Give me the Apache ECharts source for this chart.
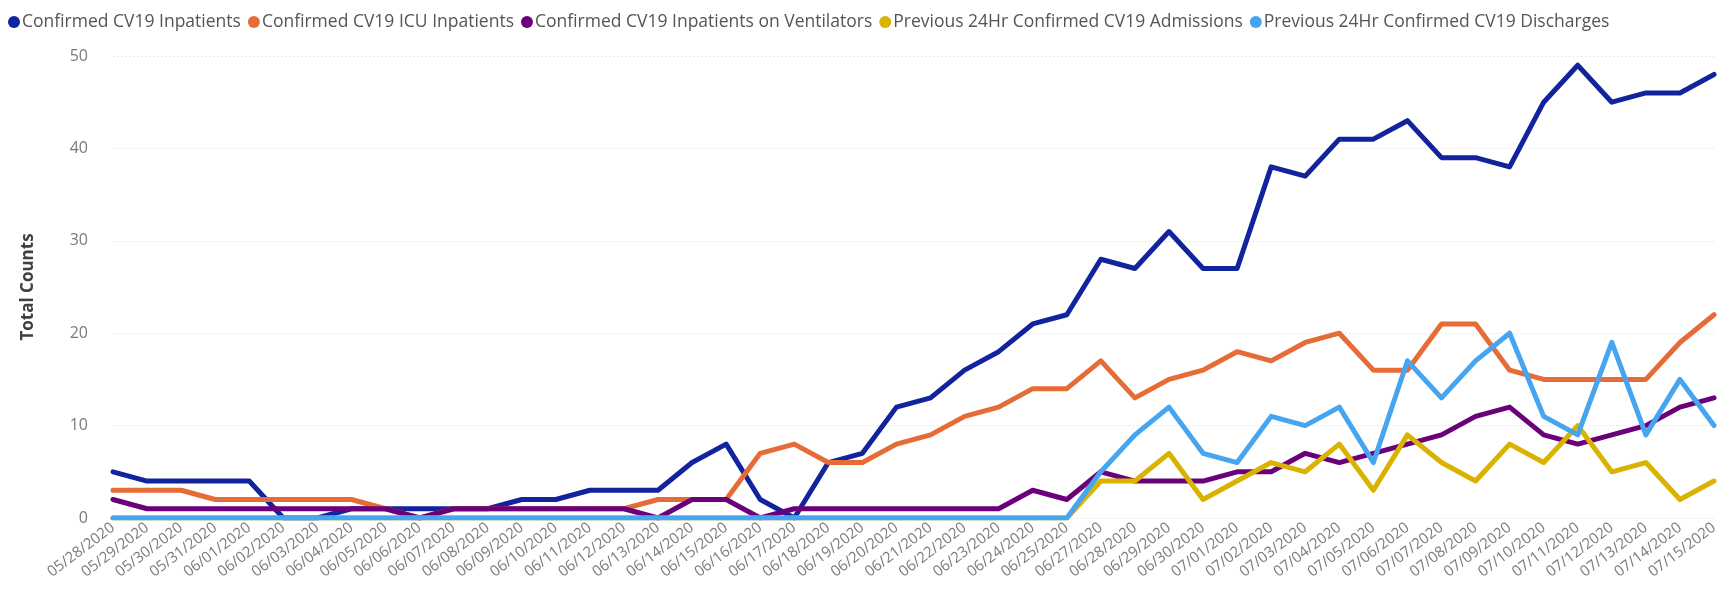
<!DOCTYPE html>
<html>
<head>
<meta charset="utf-8">
<title>CV19 Hospital Counts</title>
<script src="https://cdn.jsdelivr.net/npm/echarts@6/dist/echarts.min.js"></script>
<style>
  html, body { margin: 0; padding: 0; background: #ffffff; }
  #chart { width: 1734px; height: 598px; }
</style>
</head>
<body>
<div id="chart"></div>
<script>
// Report dates (06/26 has no record)
const dates = [
  '05/28/2020','05/29/2020','05/30/2020','05/31/2020',
  '06/01/2020','06/02/2020','06/03/2020','06/04/2020','06/05/2020','06/06/2020',
  '06/07/2020','06/08/2020','06/09/2020','06/10/2020','06/11/2020','06/12/2020',
  '06/13/2020','06/14/2020','06/15/2020','06/16/2020','06/17/2020','06/18/2020',
  '06/19/2020','06/20/2020','06/21/2020','06/22/2020','06/23/2020','06/24/2020',
  '06/25/2020','06/27/2020','06/28/2020','06/29/2020','06/30/2020',
  '07/01/2020','07/02/2020','07/03/2020','07/04/2020','07/05/2020','07/06/2020',
  '07/07/2020','07/08/2020','07/09/2020','07/10/2020','07/11/2020','07/12/2020',
  '07/13/2020','07/14/2020','07/15/2020'
];

const inpatients = [5,4,4,4,4,0,0,1,1,1,1,1,2,2,3,3,3,6,8,2,0,6,7,12,13,16,18,21,22,28,27,31,27,27,38,37,41,41,43,39,39,38,45,49,45,46,46,48];
const icuInpatients = [3,3,3,2,2,2,2,2,1,0,1,1,1,1,1,1,2,2,2,7,8,6,6,8,9,11,12,14,14,17,13,15,16,18,17,19,20,16,16,21,21,16,15,15,15,15,19,22];
const ventilators = [2,1,1,1,1,1,1,1,1,0,1,1,1,1,1,1,0,2,2,0,1,1,1,1,1,1,1,3,2,5,4,4,4,5,5,7,6,7,8,9,11,12,9,8,9,10,12,13];
const admissions24 = [0,0,0,0,0,0,0,0,0,0,0,0,0,0,0,0,0,0,0,0,0,0,0,0,0,0,0,0,0,4,4,7,2,4,6,5,8,3,9,6,4,8,6,10,5,6,2,4];
const discharges24 = [0,0,0,0,0,0,0,0,0,0,0,0,0,0,0,0,0,0,0,0,0,0,0,0,0,0,0,0,0,5,9,12,7,6,11,10,12,6,17,13,17,20,11,9,19,9,15,10];

const yTicks = { min: 0, max: 50, interval: 10 };

const seriesDefs = [
  { name: 'Confirmed CV19 Inpatients', data: inpatients, color: '#12239E' },
  { name: 'Confirmed CV19 ICU Inpatients', data: icuInpatients, color: '#E66C37' },
  { name: 'Confirmed CV19 Inpatients on Ventilators', data: ventilators, color: '#6B007B' },
  { name: 'Previous 24Hr Confirmed CV19 Admissions', data: admissions24, color: '#D9B300' },
  { name: 'Previous 24Hr Confirmed CV19 Discharges', data: discharges24, color: '#45A5F0' }
];

const fontFamily = '"Open Sans", "Noto Sans", sans-serif';

const chart = echarts.init(document.getElementById('chart'), null, { renderer: 'canvas' });

chart.setOption({
  animation: false,
  backgroundColor: '#ffffff',
  color: seriesDefs.map(s => s.color),
  legend: {
    left: 3,
    top: 8,
    icon: 'circle',
    itemWidth: 12,
    itemHeight: 12,
    itemGap: 7,
    textStyle: { color: '#555555', fontSize: 17.5, fontFamily: fontFamily, padding: [0, 0, 0, -3] },
    data: seriesDefs.map(s => s.name)
  },
  grid: { left: 113, right: 20, top: 56, bottom: 80, containLabel: false },
  xAxis: {
    type: 'category',
    data: dates,
    boundaryGap: false,
    axisLine: { show: false },
    axisTick: { show: false },
    splitLine: { show: false },
    axisLabel: {
      interval: 0,
      rotate: 37,
      margin: 8,
      color: '#7a7a7a',
      fontSize: 15,
      fontFamily: fontFamily
    }
  },
  yAxis: {
    type: 'value',
    min: yTicks.min,
    max: yTicks.max,
    interval: yTicks.interval,
    name: 'Total Counts',
    nameLocation: 'middle',
    nameGap: 76,
    nameRotate: 90,
    nameTextStyle: { color: '#404040', fontSize: 17, fontWeight: 'bold', fontFamily: fontFamily },
    axisLine: { show: false },
    axisTick: { show: false },
    axisLabel: { color: '#7a7a7a', fontSize: 16, margin: 25, fontFamily: fontFamily },
    splitLine: {
      show: true,
      lineStyle: { color: '#d9d9d9', width: 1, type: [1, 3] }
    }
  },
  series: seriesDefs.map(s => ({
    name: s.name,
    type: 'line',
    data: s.data,
    showSymbol: false,
    symbol: 'none',
    lineStyle: { width: 5, color: s.color, join: 'round', cap: 'round' },
    itemStyle: { color: s.color },
    emphasis: { disabled: true }
  }))
});
</script>
</body>
</html>
